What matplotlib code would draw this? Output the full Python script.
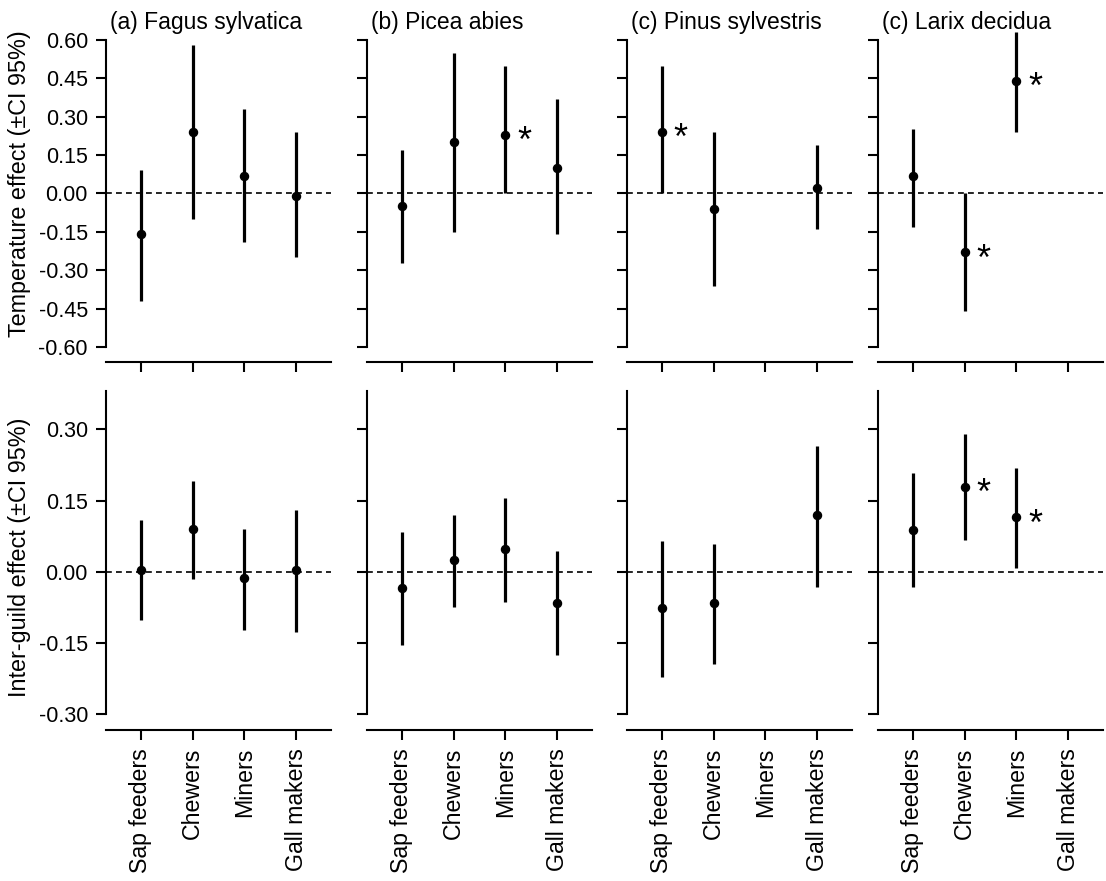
import numpy as np
import matplotlib.pyplot as plt

plt.rcParams['font.family'] = ['Liberation Sans', 'DejaVu Sans']

nan = np.nan
guilds = ["Sap feeders", "Chewers", "Miners", "Gall makers"]
species = ["(a) Fagus sylvatica", "(b) Picea abies",
           "(c) Pinus sylvestris", "(c) Larix decidua"]

# temperature effect, one row per species, columns follow guilds
temp_est = [[-0.16, 0.24, 0.07, -0.01],
            [-0.05, 0.20, 0.23, 0.10],
            [0.24, -0.06, nan, 0.02],
            [0.07, -0.23, 0.44, nan]]
temp_lo = [[-0.42, -0.10, -0.19, -0.25],
           [-0.27, -0.15, 0.00, -0.16],
           [0.00, -0.36, nan, -0.14],
           [-0.13, -0.46, 0.24, nan]]
temp_hi = [[0.09, 0.58, 0.33, 0.24],
           [0.17, 0.55, 0.50, 0.37],
           [0.50, 0.24, nan, 0.19],
           [0.25, 0.00, 0.63, nan]]
temp_sig = [[0, 0, 0, 0], [0, 0, 1, 0], [1, 0, 0, 0], [0, 1, 1, 0]]

# inter-guild effect
inter_est = [[0.004, 0.090, -0.014, 0.004],
             [-0.034, 0.025, 0.048, -0.065],
             [-0.076, -0.065, nan, 0.119],
             [0.089, 0.179, 0.115, nan]]
inter_lo = [[-0.101, -0.015, -0.122, -0.126],
            [-0.155, -0.074, -0.063, -0.175],
            [-0.221, -0.193, nan, -0.031],
            [-0.031, 0.067, 0.009, nan]]
inter_hi = [[0.110, 0.192, 0.091, 0.131],
            [0.083, 0.120, 0.155, 0.043],
            [0.064, 0.059, nan, 0.264],
            [0.208, 0.290, 0.219, nan]]
inter_sig = [[0, 0, 0, 0], [0, 0, 0, 0], [0, 0, 0, 0], [0, 1, 1, 0]]

temp_ticks = [-0.60, -0.45, -0.30, -0.15, 0.00, 0.15, 0.30, 0.45, 0.60]
inter_ticks = [-0.30, -0.15, 0.00, 0.15, 0.30]

W, H = 1106, 881
fig = plt.figure(figsize=(W / 100, H / 100), dpi=100)

col_left = [106, 367, 627, 878]
col_w = 225
rows = [
    dict(top=27.7, bottom=362, ylim=(-0.659, 0.648), bounds=(-0.60, 0.60),
         ticks=temp_ticks, est=temp_est, lo=temp_lo, hi=temp_hi, sig=temp_sig,
         label="Temperature effect (\u00b1CI 95%)", label_y=0.535),
    dict(top=379, bottom=730, ylim=(-0.333, 0.406), bounds=(-0.30, 0.38),
         ticks=inter_ticks, est=inter_est, lo=inter_lo, hi=inter_hi, sig=inter_sig,
         label="Inter-guild effect (\u00b1CI 95%)", label_y=0.493),
]

x = np.arange(1, 5)
for r, row in enumerate(rows):
    for c in range(4):
        ax = fig.add_axes([col_left[c] / W, 1 - row['bottom'] / H,
                           col_w / W, (row['bottom'] - row['top']) / H])
        ax.set_xlim(0.33, 4.67)
        ax.set_ylim(*row['ylim'])
        ax.axhline(0, color='black', lw=1.2, ls=(0, (3.5, 2.5)), zorder=1)

        est = np.array(row['est'][c])
        lo = np.array(row['lo'][c])
        hi = np.array(row['hi'][c])
        ok = ~np.isnan(est)
        ax.vlines(x[ok], lo[ok], hi[ok], color='black', lw=2.3, zorder=2)
        ax.plot(x[ok], est[ok], 'o', color='black', ms=5.8, zorder=3)
        for i in range(4):
            if row['sig'][c][i]:
                ax.annotate("*", (x[i], est[i]), xytext=(8.3, -12.5),
                            textcoords='offset points', fontsize=26,
                            ha='left', va='baseline')

        for s in ['top', 'right']:
            ax.spines[s].set_visible(False)
        ax.spines['left'].set_bounds(*row['bounds'])
        for s in ['left', 'bottom']:
            ax.spines[s].set_linewidth(1.5)
        ax.set_yticks(row['ticks'])
        if c == 0:
            ax.set_yticklabels(["%.2f" % t for t in row['ticks']], fontsize=15.5)
            ax.set_ylabel(row['label'], fontsize=16.8)
            ax.yaxis.set_label_coords((31 - 106) / col_w, row['label_y'])
        else:
            ax.set_yticklabels([])
        ax.set_xticks(x)
        if r == 1:
            ax.set_xticklabels(guilds, rotation=90, fontsize=16.7)
        else:
            ax.set_xticklabels([])
            ax.text(4 / col_w, 1 + (row['top'] - 29) / (row['bottom'] - row['top']),
                    species[c], transform=ax.transAxes, fontsize=16.5,
                    ha='left', va='baseline')
        ax.tick_params(direction='out', length=7.5, width=1.5, pad=5.5)

fig.savefig("out.png", dpi=100)
